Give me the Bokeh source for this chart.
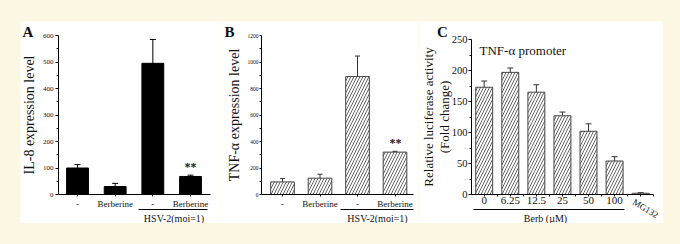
import math
from bokeh.plotting import figure
from bokeh.models import (Range1d, FixedTicker, Label, Whisker, TeeHead,
                          ColumnDataSource, Spacer)
from bokeh.core.properties import value
from bokeh.layouts import row, column
from bokeh.embed import file_html
from bokeh.resources import INLINE

CREAM = "#fcf8e3"
FONT = "Liberation Serif"
INK = "#111111"

# ---------------- data ----------------
a_cats = ["-", "Berberine", "-", "Berberine"]
a_vals = [100, 30, 495, 68]
a_errs = [13, 12, 90, 5]
a_yticks = [0, 100, 200, 300, 400, 500, 600]

b_cats = ["-", "Berberine", "-", "Berberine"]
b_vals = [95, 123, 890, 320]
b_errs = [25, 30, 155, 6]
b_yticks = [0, 200, 400, 600, 800, 1000, 1200]

group_label = "HSV-2(moi=1)"

c_cats = ["0", "6.25", "12.5", "25", "50", "100", "MG132"]
c_vals = [173, 197, 165, 127, 102, 54, 2]
c_errs = [10, 7, 12, 6, 12, 7, 1]
c_yticks = [0, 50, 100, 150, 200, 250]
c_group_label = "Berb (\u00b5M)"

# ---------------- geometry (window pixels) ----------------
TOP, BOT = 21, 223
GA = dict(left=20, w=200, ax_x=58, ax_end=210, ax_y=194, ytop=35, ymax=600, cx0=77.0, dx=37.67)
GB = dict(left=220, w=198, ax_x=261, ax_end=413, ax_y=194, ytop=35, ymax=1200, cx0=282.0, dx=37.5)
GC = dict(left=418, w=245, ax_x=471, ax_end=653, ax_y=194, ytop=39, ymax=250, cx0=483.7, dx=26.08)


def X(g, px):
    return (px - g["cx0"]) / g["dx"]


def Y(g, py):
    return (g["ax_y"] - py) * g["ymax"] / (g["ax_y"] - g["ytop"])


def make_fig(g, yticks):
    p = figure(width=g["w"], height=BOT - TOP,
               x_range=Range1d(X(g, g["left"]), X(g, g["left"] + g["w"])),
               y_range=Range1d(Y(g, BOT), Y(g, TOP)),
               output_backend="svg", toolbar_location=None,
               min_border_left=0, min_border_right=0,
               min_border_top=0, min_border_bottom=0,
               background_fill_color="white", border_fill_color="white",
               outline_line_color=None)
    p.title = None
    p.grid.visible = False
    for ax in (p.xaxis[0], p.yaxis[0]):
        ax.axis_line_color = "black"
        ax.axis_line_width = 1
        ax.major_tick_line_color = "black"
        ax.minor_tick_line_color = "black"
        ax.major_tick_in = 0
        ax.minor_tick_in = 0
        ax.major_tick_out = 3
        ax.minor_tick_out = 2
        ax.major_label_text_font = FONT
        ax.major_label_text_color = INK
        ax.axis_label_text_font = FONT
        ax.axis_label_text_font_style = "normal"
        ax.axis_label_text_color = INK
    p.yaxis.fixed_location = X(g, g["ax_x"])
    p.yaxis.bounds = (0, g["ymax"])
    minor = [(a + b) / 2 for a, b in zip(yticks[:-1], yticks[1:])]
    p.yaxis.ticker = FixedTicker(ticks=yticks, minor_ticks=minor)
    p.xaxis.fixed_location = 0
    p.xaxis.bounds = (X(g, g["ax_x"]), X(g, g["ax_end"]))
    return p


def add_label(p, g, px, py, text, size, style="normal", align="center",
              baseline="middle", angle=0.0):
    p.add_layout(Label(x=X(g, px), y=Y(g, py), text=text, text_font=FONT,
                       text_font_size=size, text_font_style=style,
                       text_align=align, text_baseline=baseline, angle=angle,
                       text_color=INK))


def add_underline(p, g, px0, px1, py):
    p.segment(x0=[X(g, px0)], x1=[X(g, px1)], y0=[Y(g, py)], y1=[Y(g, py)],
              line_color="black", line_width=1)


def bars(p, cats, vals, errs, width, hatched, cap, color):
    xs = list(range(len(cats)))
    src = ColumnDataSource(dict(x=xs, top=vals,
                                upper=[v + e for v, e in zip(vals, errs)],
                                lower=[v - e for v, e in zip(vals, errs)]))
    if hatched:
        p.vbar(x="x", top="top", bottom=0, width=width, source=src,
               fill_color="white", line_color="#444444", line_width=1,
               hatch_pattern="/", hatch_color="#666666", hatch_scale=6,
               hatch_weight=1)
    else:
        p.vbar(x="x", top="top", bottom=0, width=width, source=src,
               fill_color="black", line_color="black", line_width=1)
    p.add_layout(Whisker(source=src, base="x", upper="upper", lower="lower",
                         line_color=color, line_width=1,
                         upper_head=TeeHead(size=cap, line_color=color, line_width=1),
                         lower_head=TeeHead(size=cap, line_color=color, line_width=1)))
    p.xaxis.ticker = FixedTicker(ticks=xs)
    return xs


def stars(p, x, y, size="12px", dx=0.0):
    p.add_layout(Label(x=x, y=y, x_offset=dx, y_offset=1, text="**", text_font=FONT,
                       text_font_size=size, text_font_style="bold",
                       text_align="center", text_baseline="bottom",
                       text_color="#1a1a1a"))


# ---------------- Panel A ----------------
pa = make_fig(GA, a_yticks)
bars(pa, a_cats, a_vals, a_errs, 0.58, False, 6, "black")
pa.yaxis.major_label_text_font_size = "7px"
pa.yaxis.major_label_standoff = 2
pa.yaxis.axis_label = "IL-8 expression level"
pa.yaxis.axis_label_text_font_size = "14px"
pa.yaxis.axis_label_standoff = 3
pa.xaxis.major_label_overrides = {i: c for i, c in enumerate(a_cats)}
pa.xaxis.major_label_text_font_size = "9px"
pa.xaxis.major_tick_out = 2
pa.xaxis.major_label_standoff = 2
add_underline(pa, GA, 138, 207, 209)
add_label(pa, GA, 27.5, 31, "A", "15px", style="bold")
add_label(pa, GA, 173.5, 217.5, group_label, "10px")
stars(pa, 3, a_vals[3] + a_errs[3])

# ---------------- Panel B ----------------
pb = make_fig(GB, b_yticks)
bars(pb, b_cats, b_vals, b_errs, 0.63, True, 5, "#333333")
pb.yaxis.major_label_text_font_size = "5.5px"
pb.yaxis.major_tick_out = 2
pb.yaxis.major_label_standoff = 1
pb.yaxis.axis_label = "TNF-\u03b1 expression level"
pb.yaxis.axis_label_text_font_size = "14px"
pb.yaxis.axis_label_standoff = 3
pb.xaxis.major_label_overrides = {i: c for i, c in enumerate(b_cats)}
pb.xaxis.major_label_text_font_size = "9px"
pb.xaxis.major_tick_out = 2
pb.xaxis.major_label_standoff = 2
add_underline(pb, GB, 340, 413, 209)
add_label(pb, GB, 229, 31, "B", "15px", style="bold")
add_label(pb, GB, 377, 217.5, group_label, "10px")
stars(pb, 3, b_vals[3] + b_errs[3], dx=0.5)

# ---------------- Panel C ----------------
pc = make_fig(GC, c_yticks)
c_x = bars(pc, c_cats, c_vals, c_errs, 0.65, True, 6, "#333333")
pc.xaxis.ticker = FixedTicker(ticks=c_x, minor_ticks=[x + 0.5 for x in c_x])
pc.yaxis.major_label_text_font_size = "10.5px"
pc.yaxis.major_label_standoff = 1
pc.yaxis.axis_label = "Relative luciferase activity\n(Fold change)"
pc.yaxis.axis_label_text_font_size = "13px"
pc.yaxis.axis_label_text_line_height = 1.05
pc.yaxis.axis_label_standoff = -3
pc.xaxis.major_label_overrides = {i: (c if c != "MG132" else "") for i, c in enumerate(c_cats)}
pc.xaxis.major_label_text_font_size = "11px"
pc.xaxis.major_tick_out = 2
pc.xaxis.major_label_standoff = 0
add_underline(pc, GC, 473, 624, 209)
add_label(pc, GC, 442, 31, "C", "15px", style="bold")
add_label(pc, GC, 545, 217.5, c_group_label, "10px")
add_label(pc, GC, 645, 208, c_cats[6], "9px", angle=-0.55)
add_label(pc, GC, 479, 50, "TNF-\u03b1 promoter", "13px", align="left", baseline="alphabetic")

# ---------------- layout ----------------
sty = {"background-color": CREAM}
layout = column(
    Spacer(width=680, height=TOP, styles=sty),
    row(Spacer(width=GA["left"], height=BOT - TOP, styles=sty), pa, pb, pc,
        Spacer(width=680 - (GC["left"] + GC["w"]), height=BOT - TOP, styles=sty)),
    Spacer(width=680, height=244 - BOT, styles=sty),
    styles=sty,
)

open("out.html", "w").write(file_html(layout, INLINE))
